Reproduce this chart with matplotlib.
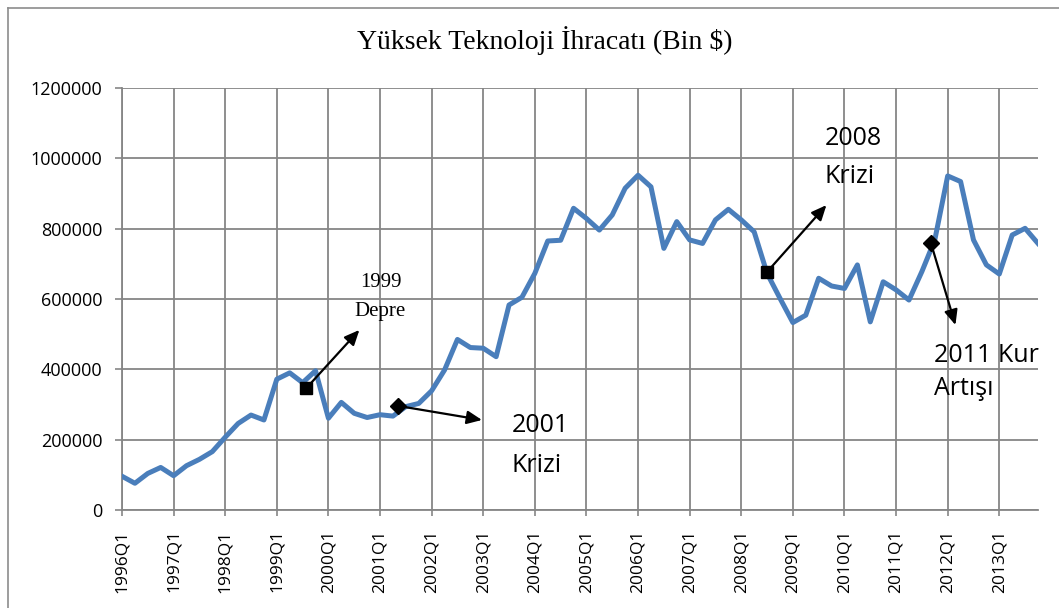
import numpy as np
import matplotlib
matplotlib.use("Agg")
import matplotlib.pyplot as plt
from matplotlib.lines import Line2D

# quarterly high technology exports (thousand $), 1996Q1 .. 2013Q4
years = list(range(1996, 2014))
quarters = ["%dQ%d" % (y, q) for y in years for q in range(1, 5)]
exports = [
    96000, 76000, 104000, 121000, 97500, 126000, 144000, 166000,
    207000, 246000, 270000, 256000, 372000, 390000, 362000, 396000,
    261000, 306000, 275000, 263000, 271000, 267000, 294000, 303000,
    339000, 398000, 485000, 462000, 460000, 436000, 583000, 605000,
    673000, 765000, 767000, 858000, 829000, 796000, 839000, 915000,
    952000, 919000, 744000, 820000, 768000, 758000, 825000, 855000,
    825000, 791000, 673000, 602000, 533000, 554000, 659000, 637000,
    630000, 697000, 535000, 649000, 626000, 597000, 678000, 768000,
    950000, 934000, 768000, 697000, 671000, 782000, 801000, 758000,
]
yticks = [0, 200000, 400000, 600000, 800000, 1000000, 1200000]

# annotations: marker (quarter idx, value), arrow end
ev_marker = [(14.3, 347000), (21.4, 296000), (50.0, 677000), (62.7, 759000)]
ev_shape = ["s", "D", "s", "D"]
ev_arrow = [(18.4, 512000), (27.9, 256000), (54.6, 867000), (64.6, 526000)]

# annotation labels: (x idx, baseline value, text)
sans_labels = [(30.19, 221800, "2001"), (30.19, 108000, "Krizi"),
               (54.49, 1037000, "2008"), (54.49, 930000, "Krizi"),
               (62.93, 421000, "2011 Kur"), (62.93, 327000, "Artışı")]
serif_labels = [(20.05, 634000, "1999"), (19.97, 552000, "Depre")]

fig = plt.figure(figsize=(10.59, 6.08), dpi=100)
ax = fig.add_axes([122 / 1059, 98 / 608, 916 / 1059, 422 / 608])

x = np.arange(len(quarters))
ax.plot(x, exports, color="#4A7EBB", lw=3.6, solid_joinstyle="round", zorder=3)

sans = ["Open Sans", "DejaVu Sans"]
ax.set_xlim(0, len(quarters) - 1)
ax.set_ylim(0, 1200000)
ax.set_yticks(yticks)
ax.set_yticklabels([str(v) for v in yticks], fontsize=13, family=sans)
ax.set_xticks(x[::4])
ax.set_xticklabels(quarters[::4], rotation=90, fontsize=12.5, family=sans)
ax.tick_params(axis="y", length=5, color="#868686", width=1.2, pad=9)
ax.tick_params(axis="x", length=4, color="#868686", width=1.2, pad=10)
ax.grid(True, color="#868686", lw=1.3)
ax.set_axisbelow(True)
for s in ["top", "right"]:
    ax.spines[s].set_visible(False)
for s in ["bottom", "left"]:
    ax.spines[s].set_color("#868686")
    ax.spines[s].set_linewidth(1.3)

for (mx, my), shp, (ex, ey) in zip(ev_marker, ev_shape, ev_arrow):
    ax.annotate("", xy=(ex, ey), xytext=(mx, my),
                arrowprops=dict(arrowstyle="-|>,head_length=0.9,head_width=0.4",
                                color="black", lw=1.6, shrinkA=0, shrinkB=0),
                zorder=5)
    ax.plot(mx, my, marker=shp, color="black", ms=8, zorder=6)

for tx, ty, s in serif_labels:
    ax.text(tx, ty, s, ha="center", va="baseline", fontsize=15,
            family="Liberation Serif", zorder=7)
for tx, ty, s in sans_labels:
    ax.text(tx, ty, s, ha="left", va="baseline", fontsize=18,
            family=sans, clip_on=False, zorder=7)

fig.text(545 / 1059, 1 - 41 / 608, "Yüksek Teknoloji İhracatı (Bin $)",
         ha="center", va="center", fontsize=20, family="Liberation Serif")

# chart frame
fig.add_artist(Line2D([8 / 1059, 8 / 1059], [0, 1 - 8 / 608], color="#8c8c8c", lw=1.2))
fig.add_artist(Line2D([8 / 1059, 1], [1 - 8 / 608, 1 - 8 / 608], color="#8c8c8c", lw=1.2))

fig.savefig("out.png", dpi=100)
